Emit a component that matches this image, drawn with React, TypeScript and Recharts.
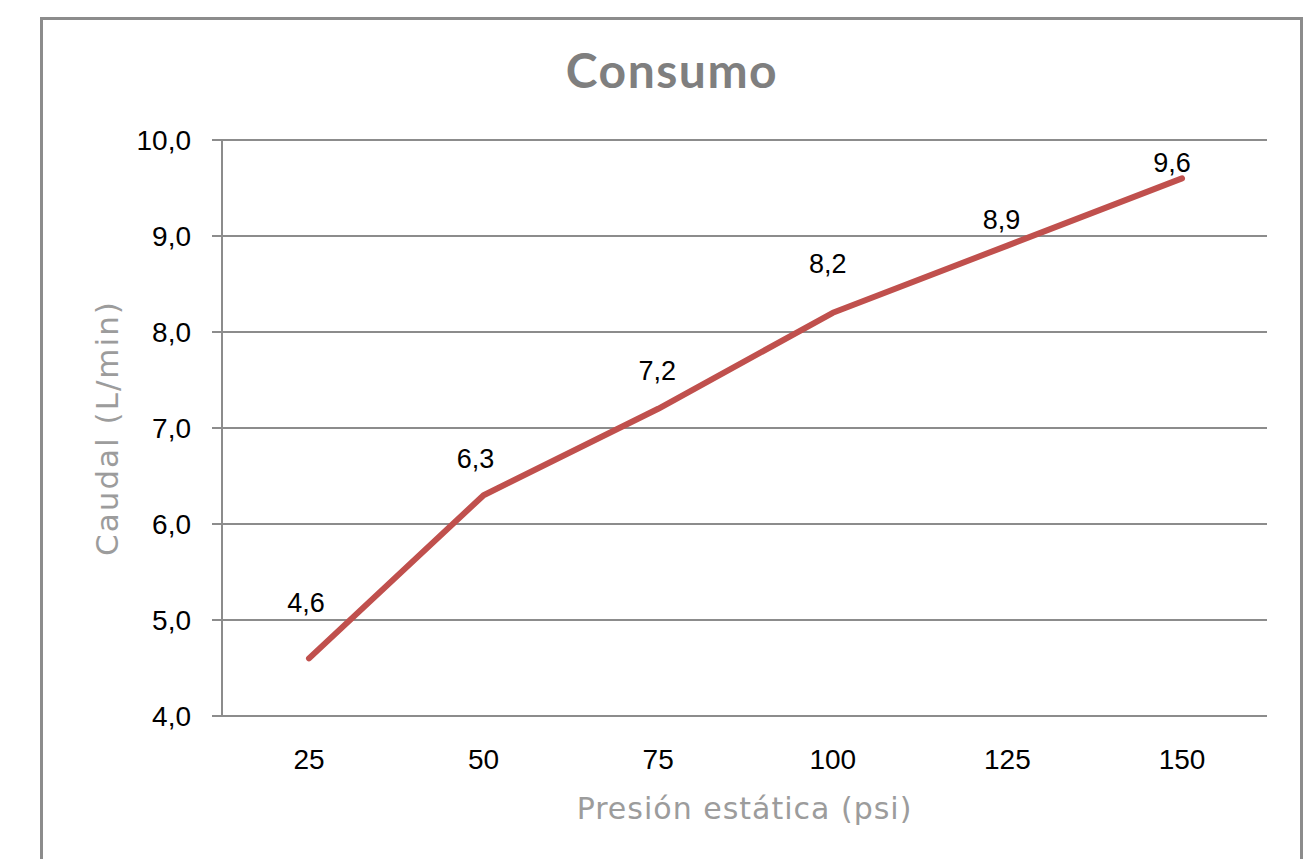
import React from 'react';
import { LineChart, Line, XAxis, YAxis, CartesianGrid, LabelList, Label } from 'recharts';

const categories = ['25', '50', '75', '100', '125', '150'];
const caudal = [4.6, 6.3, 7.2, 8.2, 8.9, 9.6];
const yTicks = [4, 5, 6, 7, 8, 9, 10];

// label placement (style only)
const LABEL_LIFT = [46, 27, 29, 40, 17, 6];
const LABEL_SHIFT = [-3, -8, -1, -5, -6, -10];

const data = categories.map((c, i) => ({ presion: c, caudal: caudal[i] }));
const fmt = (v: number) => Number(v).toFixed(1).replace('.', ',');

const GRAY = '#8c8c8c';
const TICK_FONT = '"Liberation Sans", Arial, sans-serif';
const TITLE_FONT = 'Lato, "DejaVu Sans", sans-serif';
const AXIS_TITLE_FONT = '"DejaVu Sans", sans-serif';

const renderLabel = (props: any) => {
  const { x, y, value, index } = props;
  return (
    <text
      x={x + LABEL_SHIFT[index]}
      y={y - LABEL_LIFT[index]}
      textAnchor="middle"
      fontSize={27}
      fontFamily={TICK_FONT}
      fill="#000"
    >
      {fmt(value)}
    </text>
  );
};

export default function App() {
  return (
    <div style={{ position: 'absolute', left: 0, top: 0, width: 1306, height: 859, overflow: 'hidden', background: '#fff' }}>
      <div
        style={{
          position: 'absolute',
          left: 40,
          top: 17,
          width: 1263,
          height: 900,
          border: `3px solid ${GRAY}`,
          boxSizing: 'border-box',
        }}
      />
      <svg width={1306} height={120} style={{ position: 'absolute', left: 0, top: 0 }}>
        <text
          x={672}
          y={88}
          textAnchor="middle"
          fontSize={48}
          fontWeight={700}
          letterSpacing={1.5}
          fontFamily={TITLE_FONT}
          fill="#7f7f7f"
        >
          Consumo
        </text>
      </svg>
      <div style={{ position: 'absolute', left: 0, top: 0 }}>
        <LineChart width={1306} height={859} data={data} margin={{ top: 140, right: 39, bottom: 0, left: 0 }}>
          <CartesianGrid vertical={false} stroke={GRAY} strokeWidth={2} />
          <XAxis
            dataKey="presion"
            padding={{ left: 87, right: 85 }}
            axisLine={{ stroke: GRAY, strokeWidth: 2 }}
            tickLine={false}
            tickSize={0}
            tickMargin={33}
            height={143}
            tick={{ fill: '#000', fontSize: 28, fontFamily: TICK_FONT }}
            interval={0}
          >
            <Label
              value="Presión estática (psi)"
              position="center"
              dy={21}
              fill="#9c9c9c"
              fontSize={30}
              letterSpacing={1}
              fontFamily={AXIS_TITLE_FONT}
            />
          </XAxis>
          <YAxis
            type="number"
            domain={[4, 10]}
            ticks={yTicks}
            interval={0}
            width={222}
            axisLine={{ stroke: GRAY, strokeWidth: 2 }}
            tickLine={{ stroke: GRAY, strokeWidth: 2 }}
            tickSize={10}
            tickMargin={21}
            tickFormatter={fmt}
            tick={{ fill: '#000', fontSize: 28, fontFamily: TICK_FONT }}
          >
            <Label
              value="Caudal (L/min)"
              position="center"
              angle={-90}
              dx={-4}
              fill="#9c9c9c"
              fontSize={31}
              letterSpacing={2}
              fontFamily={AXIS_TITLE_FONT}
            />
          </YAxis>
          <Line
            type="linear"
            dataKey="caudal"
            stroke="#c0504d"
            strokeWidth={6}
            strokeLinecap="round"
            strokeLinejoin="round"
            dot={false}
            activeDot={false}
            isAnimationActive={false}
          >
            <LabelList dataKey="caudal" content={renderLabel} />
          </Line>
        </LineChart>
      </div>
    </div>
  );
}
